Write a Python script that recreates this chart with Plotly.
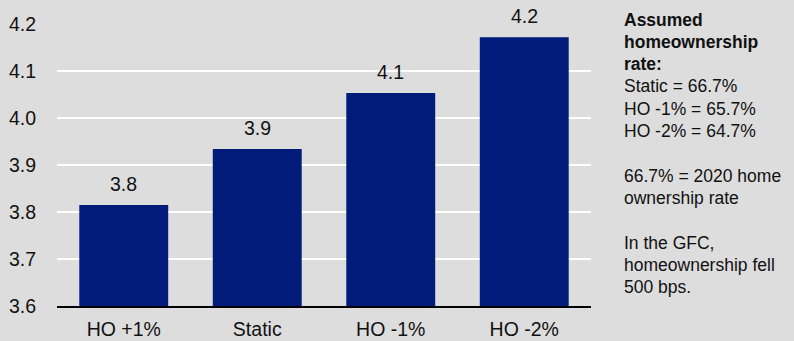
import plotly.graph_objects as go

# Scenario categories and modelled values
scenarios = ["HO +1%", "Static", "HO -1%", "HO -2%"]
values = [3.815, 3.934, 4.053, 4.172]

# Y-axis ticks
y_ticks = [3.6, 3.7, 3.8, 3.9, 4.0, 4.1, 4.2]
y_tick_text = ["3.6", "3.7", "3.8", "3.9", "4.0", "4.1", "4.2"]

# Side note lines
note_lines = [
    "<b>Assumed</b>",
    "<b>homeownership</b>",
    "<b>rate:</b>",
    "Static = 66.7%",
    "HO -1% = 65.7%",
    "HO -2% = 64.7%",
    "",
    "66.7% = 2020 home",
    "ownership rate",
    "",
    "In the GFC,",
    "homeownership fell",
    "500 bps.",
]

BG = "#dddddd"
BAR = "#001b79"
FONT = "Liberation Sans, Arial, sans-serif"

W, H = 794, 341
PL, PR, PT, PB = 57, 591, 24, 306  # plot area edges in pixels

fig = go.Figure()
fig.add_trace(go.Bar(
    x=scenarios,
    y=values,
    marker=dict(color=BAR, line=dict(width=0)),
    hoverinfo="skip",
))

# Value labels above each bar
for cat, v in zip(scenarios, values):
    fig.add_annotation(
        x=cat, y=v, xref="x", yref="y",
        text=f"{v:.1f}", showarrow=False,
        yanchor="bottom", yshift=8,
        font=dict(family=FONT, size=19.5, color="#111111"),
    )

# Note text on the right, one line per annotation (paper coords span the plot area)
for i, line in enumerate(note_lines):
    if not line:
        continue
    y_px = 19.5 + 22.33 * i
    fig.add_annotation(
        x=(622 - PL) / (PR - PL), y=(PB - y_px) / (PB - PT),
        xref="paper", yref="paper",
        text=line, showarrow=False,
        xanchor="left", yanchor="middle", align="left",
        font=dict(family=FONT, size=17.5, color="#111111"),
    )

fig.update_layout(
    template="none",
    width=W, height=H,
    margin=dict(l=PL, r=W - PR, t=PT, b=H - PB, pad=0),
    paper_bgcolor=BG,
    plot_bgcolor=BG,
    bargap=0.334,
    showlegend=False,
    font=dict(family=FONT, size=19.5, color="#111111"),
)

fig.update_xaxes(
    automargin=False,
    showline=True, linecolor="black", linewidth=2,
    showgrid=False, zeroline=False,
    ticks="outside", ticklen=5, tickcolor="rgba(0,0,0,0)",
    tickfont=dict(family=FONT, size=19.5, color="#111111"),
)

fig.update_yaxes(
    automargin=False,
    range=[3.6, 4.2],
    tickmode="array", tickvals=y_ticks, ticktext=y_tick_text,
    showgrid=True, gridcolor="white", gridwidth=2,
    zeroline=False, showline=False,
    ticks="outside", ticklen=16, tickcolor="rgba(0,0,0,0)",
    tickfont=dict(family=FONT, size=19.5, color="#111111"),
)

fig.write_html("out.html")
